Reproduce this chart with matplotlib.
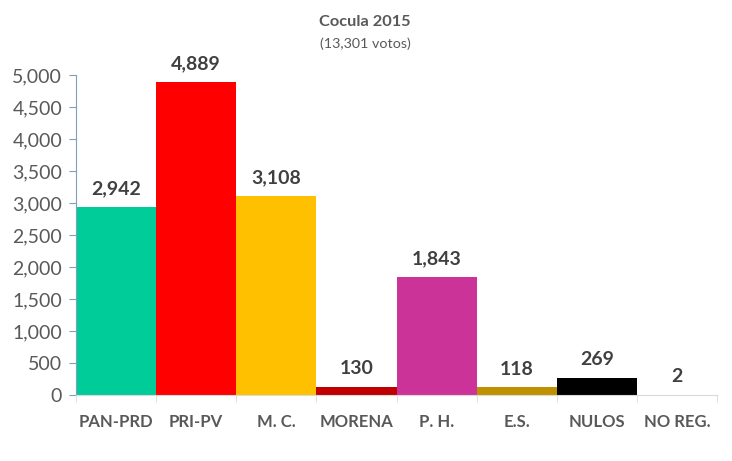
import matplotlib.pyplot as plt
import numpy as np

# datos de la eleccion
partidos = ['PAN-PRD', 'PRI-PV', 'M. C.', 'MORENA', 'P. H.', 'E.S.', 'NULOS', 'NO REG.']
votos = [2942, 4889, 3108, 130, 1843, 118, 269, 2]
colores = ['#00CC99', '#FF0000', '#FFC000', '#C00000', '#CC3399', '#BF9000', '#000000', '#FFFFFF']

plt.rcParams['font.family'] = ['Lato', 'DejaVu Sans']

fig = plt.figure(figsize=(7.32, 4.61), dpi=100)
ax = fig.add_axes([76 / 732, 1 - 395 / 461, 641 / 732, 320 / 461])

x = np.arange(len(partidos))
ax.bar(x, votos, width=1.0, color=colores, align='center')

for xi, v in zip(x, votos):
    ax.annotate('{:,}'.format(v), (xi, v), xytext=(0, 7), textcoords='offset points',
                ha='center', va='bottom', fontsize=14, fontweight='bold', color='#404040')

ax.set_xlim(-0.5, len(partidos) - 0.5)
ax.set_ylim(0, 5000)
ax.set_yticks(np.arange(0, 5001, 500))
ax.set_yticklabels(['{:,}'.format(t) for t in range(0, 5001, 500)], fontsize=14, color='#595959')

ax.set_xticks(x)
ax.set_xticklabels(partidos, fontsize=12, fontweight='bold', color='#595959')
ax.tick_params(axis='x', length=0, pad=14)
ax.set_xticks(np.arange(-0.5, len(partidos)), minor=True)
ax.tick_params(axis='x', which='minor', length=5, color='#D9D9D9')
ax.tick_params(axis='y', length=5, color='#7F9FC0', pad=5)

for s in ['top', 'right']:
    ax.spines[s].set_visible(False)
ax.spines['left'].set_color('#7F9FC0')
ax.spines['bottom'].set_color('#D9D9D9')

fig.text(0.499, 1 - 22 / 461, 'Cocula 2015', ha='center', va='center',
         fontsize=11.8, fontweight='bold', color='#595959')
fig.text(0.499, 1 - 44 / 461, '(13,301 votos)', ha='center', va='center',
         fontsize=10.3, color='#595959')

fig.savefig('out.png', dpi=100)
